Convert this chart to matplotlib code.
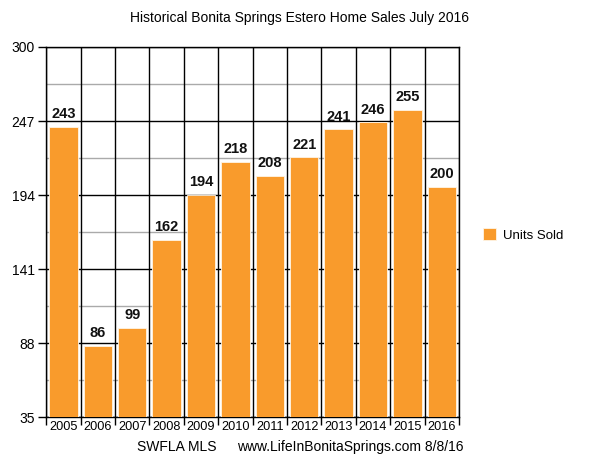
import numpy as np
import matplotlib.pyplot as plt

plt.rcParams['font.family'] = ['Liberation Sans', 'DejaVu Sans']

years = ['2005', '2006', '2007', '2008', '2009', '2010', '2011', '2012',
         '2013', '2014', '2015', '2016']
units_sold = [243, 86, 99, 162, 194, 218, 208, 221, 241, 246, 255, 200]
y_ticks = [35, 88, 141, 194, 247, 300]

fig = plt.figure(figsize=(6, 4.63), dpi=100)
ax = fig.add_axes([0.077, 0.099, 0.688, 0.7995])

x = np.arange(len(years))
bars = ax.bar(x, units_sold, width=0.82, color='#f99b2c', edgecolor='#fff5e6',
              linewidth=0.6, label='Units Sold', zorder=3)

for xi, v in zip(x, units_sold):
    ax.text(xi, v + 4, str(v), ha='center', va='bottom', fontsize=10.5,
            fontweight='bold', color='#111111', zorder=4)

ax.set_xlim(-0.5, len(years) - 0.5)
ax.set_ylim(35, 300)

# x: labels at centers, tick marks + vertical lines at boundaries
bounds = np.arange(-0.5, len(years), 1)
ax.set_xticks(x)
ax.set_xticklabels(years, fontsize=9.2)
ax.tick_params(axis='x', which='major', length=0, pad=3)
ax.set_xticks(bounds, minor=True)
ax.tick_params(axis='x', which='minor', length=6, width=1, direction='out')

# y ticks
minor_y = [(a + b) / 2 for a, b in zip(y_ticks[:-1], y_ticks[1:])]
ax.set_yticks(y_ticks)
ax.set_yticklabels([str(t) for t in y_ticks], fontsize=10)
ax.tick_params(axis='y', which='major', length=6, width=1, direction='out', pad=2)

# grid: gray minor horizontals under black lines
for yv in minor_y:
    ax.axhline(yv, color='#aaaaaa', linewidth=1, zorder=0.5)
for yv in y_ticks:
    ax.axhline(yv, color='black', linewidth=1, zorder=1)
for xv in bounds:
    ax.axvline(xv, color='black', linewidth=1, zorder=1)

for s in ax.spines.values():
    s.set_linewidth(1)
    s.set_color('black')

fig.text(0.5, 0.962, 'Historical Bonita Springs Estero Home Sales July 2016',
         ha='center', va='center', fontsize=10)
fig.text(0.228, 0.035, 'SWFLA MLS', ha='left', va='center', fontsize=10)
fig.text(0.395, 0.035, 'www.LifeInBonitaSprings.com 8/8/16',
         ha='left', va='center', fontsize=10)

fig.legend(handles=[bars], labels=['Units Sold'], loc='center left',
           bbox_to_anchor=(0.805, 0.492), frameon=False, fontsize=9.5,
           handlelength=1.0, handleheight=1.0, handletextpad=0.5,
           borderaxespad=0, borderpad=0)

fig.savefig('out.png', dpi=100)
